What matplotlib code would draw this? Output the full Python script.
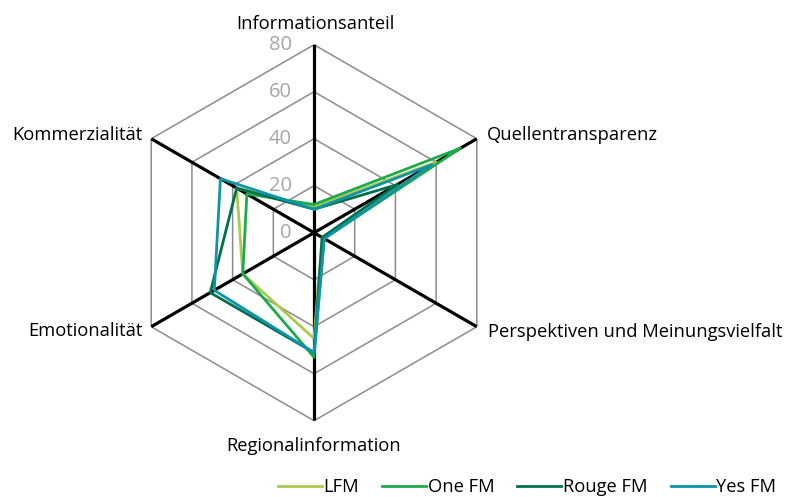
import numpy as np
import matplotlib
matplotlib.use("Agg")
import matplotlib.pyplot as plt

plt.rcParams["font.family"] = ["Open Sans", "DejaVu Sans"]

categories = ["Informationsanteil", "Quellentransparenz", "Perspektiven und Meinungsvielfalt",
              "Regionalinformation", "Emotionalität", "Kommerzialität"]
series_names = ["LFM", "One FM", "Rouge FM", "Yes FM"]
lfm = [11, 60, 4, 45, 35, 38]
one_fm = [12, 72, 5, 53, 35, 33]
rouge_fm = [10, 41, 4, 51, 51, 38]
yes_fm = [10, 58, 5, 51, 49, 46]
ticks = [0, 20, 40, 60, 80]
colors = ["#a9cb4b", "#1faa4a", "#00704f", "#0f93a9"]

n = len(categories)
theta = np.arange(n) * 2 * np.pi / n
theta_c = np.append(theta, theta[0])

fig = plt.figure(figsize=(7.89, 4.97), dpi=100)
ax = fig.add_axes([0.1597, 0.1535, 0.4766, 0.7565], projection="polar")
ax.set_theta_offset(np.pi / 2)
ax.set_theta_direction(-1)
ax.set_ylim(0, 80)
ax.grid(False)
ax.spines["polar"].set_visible(False)
ax.set_xticks([]); ax.set_yticks([])
ax.patch.set_alpha(0)

# hexagon grid
for t in ticks[1:]:
    ax.plot(theta_c, [t] * (n + 1), color="#8c8c8c", lw=1.1, zorder=1)
for th in theta:
    ax.plot([th, th], [0, 80], color="black", lw=2.3, zorder=2)

for name, vals, c in zip(series_names, [lfm, one_fm, rouge_fm, yes_fm], colors):
    ax.plot(theta_c, vals + vals[:1], color=c, lw=2.0, label=name, zorder=3)

for t in ticks:
    ax.annotate(str(t), xy=(0, t), xytext=(-16, 0), textcoords="offset points",
                ha="right", va="center", color="#a6a6a6", fontsize=14.5)

lab_pos = [((0, 80), (1, 11), "center"),
           ((theta[1], 80), (7, -1), "left"),
           ((theta[2], 80), (8, -7.5), "left"),
           ((np.pi, 80), (0, -21.5), "center"),
           ((theta[4], 80), (-6.5, -7), "right"),
           ((theta[5], 80), (-6.5, -1), "right")]
for cat, (xy, off, ha) in zip(categories, lab_pos):
    ax.annotate(cat, xy=xy, xytext=off, textcoords="offset points",
                ha=ha, va="baseline", fontsize=13.2, color="black")

fig.legend(loc="lower right", bbox_to_anchor=(1.005, -0.032), ncol=4, frameon=False,
           fontsize=13.2, handlelength=2.4, handletextpad=0.1, columnspacing=1.25)

fig.savefig("out.png", dpi=100)
